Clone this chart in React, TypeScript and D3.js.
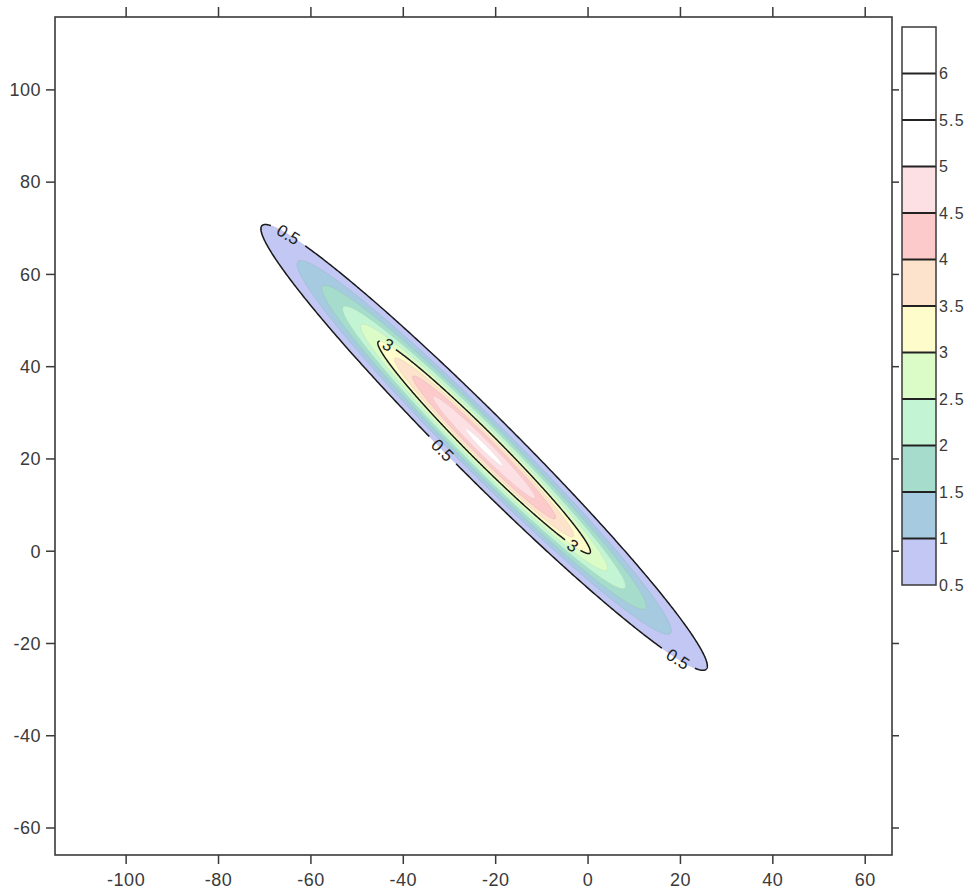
import React from "react";
import * as d3 from "d3";

// ---- data ----
const X_TICKS = [-100, -80, -60, -40, -20, 0, 20, 40, 60];
const Y_TICKS = [-60, -40, -20, 0, 20, 40, 60, 80, 100];

// colour-bar boundaries and band colours (band i spans LEVELS[i]..LEVELS[i+1])
const LEVELS = [0.5, 1, 1.5, 2, 2.5, 3, 3.5, 4, 4.5, 5, 5.5, 6, 6.5];
const LEVEL_LABELS = ["0.5", "1", "1.5", "2", "2.5", "3", "3.5", "4", "4.5", "5", "5.5", "6"];
const BAND_COLORS = [
  "#c3c7f3", "#a6cbe0", "#a6dccb", "#c3f4d3", "#dcfcc7", "#fefccb",
  "#fde3cb", "#fccaca", "#fde0e3", "#ffffff", "#ffffff", "#ffffff",
];

// contour ellipses (data units): level, half-length along major axis, half-width
const CONTOUR_LEVELS = [0.5, 1, 1.5, 2, 2.5, 3, 3.5, 4, 4.5, 5];
const HALF_LENGTH = [68.0, 57.0, 49.4, 43.1, 37.6, 32.4, 27.3, 21.8, 15.6, 5.6];
const HALF_WIDTH = [6.8, 5.7, 4.94, 4.31, 3.76, 3.1, 2.62, 2.1, 1.5, 0.55];
const CENTER_X = -22.5;
const CENTER_Y = 22.5;
const MAJOR_ANGLE_DEG = -45;

// labelled contour lines
const LINE_LEVELS = [0.5, 3];
const LABEL_LEVELS = [0.5, 0.5, 0.5, 3, 3];
const LABEL_PARAM_DEG = [157, 265, 336, 160, 332];

const W = 976;
const H = 894;
const PLOT = { left: 55, top: 17, right: 892, bottom: 855 };
const CB = { left: 902, right: 936, top: 27, bottom: 585 };
const FONT = "'Liberation Sans', Arial, Helvetica, sans-serif";

export default function App() {
  const x = d3.scaleLinear().domain([-115.4, 65.8]).range([PLOT.left, PLOT.right]);
  const y = d3.scaleLinear().domain([-65.85, 115.8]).range([PLOT.bottom, PLOT.top]);
  const cb = d3.scaleLinear().domain([0.5, 6.5]).range([CB.bottom, CB.top]);

  const th = (MAJOR_ANGLE_DEG * Math.PI) / 180;
  const ellipsePoint = (a: number, b: number, t: number): [number, number] => {
    const u = a * Math.cos(t);
    const v = b * Math.sin(t);
    const dx = u * Math.cos(th) - v * Math.sin(th);
    const dy = u * Math.sin(th) + v * Math.cos(th);
    return [x(CENTER_X + dx), y(CENTER_Y + dy)];
  };
  const N = 720;
  const ellipsePts = (i: number) =>
    d3.range(N + 1).map((k) => ellipsePoint(HALF_LENGTH[i], HALF_WIDTH[i], (k / N) * 2 * Math.PI));

  const line = d3.line<[number, number]>().curve(d3.curveLinear);
  const closed = d3.line<[number, number]>().curve(d3.curveLinearClosed);

  // label positions
  const labels = LABEL_LEVELS.map((lv, j) => {
    const i = CONTOUR_LEVELS.indexOf(lv);
    const a = HALF_LENGTH[i];
    const b = HALF_WIDTH[i];
    const t = (LABEL_PARAM_DEG[j] * Math.PI) / 180;
    const p = ellipsePoint(a, b, t);
    const p2 = ellipsePoint(a, b, t + 0.002);
    let ang = (Math.atan2(p2[1] - p[1], p2[0] - p[0]) * 180) / Math.PI;
    if (ang > 90) ang -= 180;
    if (ang < -90) ang += 180;
    const text = lv === 0.5 ? "0.5" : String(lv);
    const gap = lv === 0.5 ? 19 : 9;
    return { lv, p, ang, text, gap };
  });

  const lineSegments = (lv: number) => {
    const i = CONTOUR_LEVELS.indexOf(lv);
    const pts = ellipsePts(i);
    const ls = labels.filter((l) => l.lv === lv);
    const segs: [number, number][][] = [];
    let cur: [number, number][] = [];
    pts.forEach((p) => {
      const hidden = ls.some((l) => Math.hypot(p[0] - l.p[0], p[1] - l.p[1]) < l.gap);
      if (hidden) {
        if (cur.length > 1) segs.push(cur);
        cur = [];
      } else cur.push(p);
    });
    if (cur.length > 1) segs.push(cur);
    return segs;
  };

  const bandColorFor = (lv: number) => BAND_COLORS[LEVELS.indexOf(lv)];

  return (
    <svg
      width={W}
      height={H}
      style={{ position: "absolute", left: 0, top: 0, background: "#fff" }}
      fontFamily={FONT}
    >
      <rect x={0} y={0} width={W} height={H} fill="#fff" />
      {/* filled contours */}
      <g>
        {CONTOUR_LEVELS.map((lv, i) => (
          <path
            key={"f" + lv}
            d={closed(ellipsePts(i)) || ""}
            fill={bandColorFor(lv)}
            stroke={d3.color(bandColorFor(lv))!.darker(0.35).formatHex()}
            strokeWidth={0.8}
            strokeOpacity={0.6}
          />
        ))}
      </g>
      {/* contour lines */}
      <g fill="none" stroke="#1a1a1a" strokeWidth={1.5}>
        {LINE_LEVELS.map((lv) =>
          lineSegments(lv).map((s, k) => <path key={"l" + lv + "-" + k} d={line(s) || ""} />)
        )}
      </g>
      <g fontSize={17} fill="#222" textAnchor="middle">
        {labels.map((l, k) => (
          <text
            key={"cl" + k}
            transform={`translate(${l.p[0]},${l.p[1]}) rotate(${l.ang})`}
            dy="0.35em"
          >
            {l.text}
          </text>
        ))}
      </g>

      {/* frame */}
      <rect
        x={PLOT.left}
        y={PLOT.top}
        width={PLOT.right - PLOT.left}
        height={PLOT.bottom - PLOT.top}
        fill="none"
        stroke="#3a3a3a"
        strokeWidth={1.6}
      />
      {/* ticks */}
      <g stroke="#3a3a3a" strokeWidth={1.5}>
        {X_TICKS.map((v) => (
          <g key={"xt" + v}>
            <line x1={x(v)} x2={x(v)} y1={PLOT.bottom} y2={PLOT.bottom + 9} />
            <line x1={x(v)} x2={x(v)} y1={PLOT.top} y2={PLOT.top - 10} />
          </g>
        ))}
        {Y_TICKS.map((v) => (
          <g key={"yt" + v}>
            <line x1={PLOT.left} x2={PLOT.left - 9} y1={y(v)} y2={y(v)} />
            <line x1={PLOT.right} x2={PLOT.right + 7} y1={y(v)} y2={y(v)} />
          </g>
        ))}
      </g>
      <g fontSize={18} fill="#3a3a3a" letterSpacing={0.5}>
        {X_TICKS.map((v) => (
          <text key={"xl" + v} x={x(v)} y={886} textAnchor="middle">
            {v}
          </text>
        ))}
        {Y_TICKS.map((v) => (
          <text key={"yl" + v} x={41} y={y(v)} dy="0.35em" textAnchor="end">
            {v}
          </text>
        ))}
      </g>

      {/* colour bar */}
      <g>
        {BAND_COLORS.map((c, i) => (
          <rect
            key={"cb" + i}
            x={CB.left}
            width={CB.right - CB.left}
            y={cb(LEVELS[i + 1])}
            height={cb(LEVELS[i]) - cb(LEVELS[i + 1])}
            fill={c}
          />
        ))}
        {LEVELS.slice(1, -1).map((lv) => (
          <line
            key={"cbl" + lv}
            x1={CB.left}
            x2={CB.right}
            y1={cb(lv)}
            y2={cb(lv)}
            stroke="#222"
            strokeWidth={1.8}
          />
        ))}
        <rect
          x={CB.left}
          y={CB.top}
          width={CB.right - CB.left}
          height={CB.bottom - CB.top}
          fill="none"
          stroke="#3a3a3a"
          strokeWidth={1.5}
        />
        <g fontSize={16} fill="#3a3a3a" letterSpacing={1.2}>
          {LEVEL_LABELS.map((t, i) => (
            <text key={"cbt" + t} x={CB.right + 3} y={cb(LEVELS[i])} dy="0.35em">
              {t}
            </text>
          ))}
        </g>
      </g>
    </svg>
  );
}
